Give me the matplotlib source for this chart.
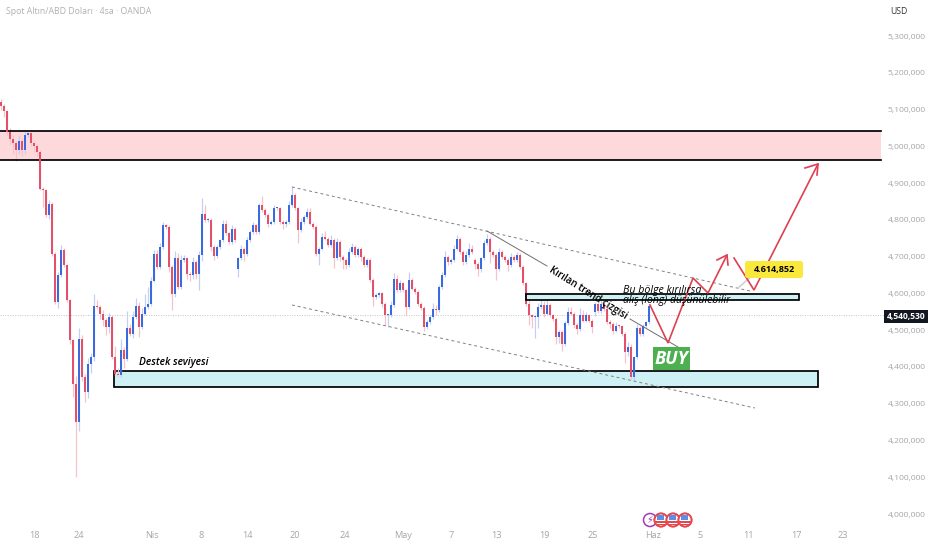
import matplotlib
matplotlib.use("Agg")
import matplotlib.pyplot as plt
from matplotlib.patches import Rectangle, Circle, FancyBboxPatch
from matplotlib.transforms import Affine2D

W, H = 932, 550
FONT = ["Open Sans", "DejaVu Sans"]
plt.rcParams["font.family"] = FONT

# closing prices (thousands), one per 4h bar
closes = [
 5110,5095,5040,5020,5010,4990,5015,4990,5030,5035,
 5010,5000,4985,4885,4880,4813,4844,4708,4576,4649,
 4719,4676,4581,4472,4354,4250,4477,4372,4331,4408,
 4427,4567,4563,4545,4527,4508,4536,4427,4381,4377,
 4445,4422,4506,4490,4536,4567,4508,4545,4563,4572,
 4635,4708,4672,4726,4785,4781,4672,4599,4695,4617,
 4690,4695,4654,4649,4685,4654,4704,4815,4799,4799,
 4726,4701,4726,4744,4790,4763,4740,4776,4744,4695,
 4722,4708,4744,4767,4785,4767,4840,4826,4813,4790,
 4794,4831,4831,4794,4790,4794,4840,4867,4831,4772,
 4795,4808,4822,4790,4781,4708,4722,4754,4749,4731,
 4745,4695,4740,4699,4690,4676,4713,4726,4704,4722,
 4699,4676,4690,4636,4590,4595,4600,4572,4540,4540,
 4568,4640,4608,4627,4608,4563,4636,4613,4604,4572,
 4560,4508,4522,4536,4558,4555,4617,4649,4699,4686,
 4690,4722,4749,4713,4686,4704,4722,4713,4681,4667,
 4695,4736,4749,4713,4704,4667,4713,4699,4690,4676,
 4699,4690,4704,4672,4627,4572,4540,4535,4536,4563,
 4568,4545,4568,4540,4531,4481,4495,4463,4520,4549,
 4545,4515,4504,4540,4526,4540,4526,4508,4571,4553,
 4571,4558,4522,4517,4499,4512,4510,4490,4440,4453,
 4372,4426,4506,4490,4512,4521,4567]
# bars that open away from the previous close (weekend gaps), bar -> open
gap_opens = {79: 4667, 158: 4690, 198: 4549}
first_open = 5120
upper_wick = [
 10,5,5,10,10,5,15,5,15,5,
 5,5,5,5,5,5,10,5,5,10,
 12,5,5,5,5,20,30,10,10,15,
 10,32,15,5,10,5,10,5,30,15,
 30,10,47,10,15,20,10,15,35,45,
 10,10,10,10,10,5,5,5,20,15,
 15,10,5,5,15,5,10,45,25,5,
 5,5,5,5,10,10,5,10,5,5,
 10,5,10,5,10,5,5,25,5,5,
 5,10,5,5,5,5,10,25,5,5,
 10,5,10,10,5,5,5,10,15,5,
 15,5,10,5,5,5,10,10,5,5,
 5,5,5,5,5,5,5,5,5,5,
 10,15,10,10,5,5,23,5,5,5,
 5,5,5,5,15,10,5,10,15,5,
 5,10,10,5,5,10,15,10,5,5,
 5,10,12,5,5,5,10,5,5,5,
 10,5,8,5,5,5,10,5,5,10,
 20,10,20,5,5,5,5,5,5,15,
 15,5,5,20,15,10,5,5,5,5,
 15,5,5,5,5,10,5,5,5,15,
 10,5,10,5,5,5,5]
lower_wick = [
 10,15,10,15,30,30,10,15,10,5,
 10,15,10,5,45,5,10,5,5,15,
 5,5,5,10,35,150,25,10,27,15,
 25,10,5,15,15,20,15,5,5,5,
 5,25,5,5,10,5,27,5,5,5,
 5,5,5,5,5,5,15,45,10,5,
 5,5,15,15,10,15,45,15,5,5,
 10,10,5,5,5,5,5,5,5,23,
 5,20,5,5,5,5,5,5,5,10,
 5,5,5,5,15,10,5,5,5,35,
 5,5,5,5,5,5,30,5,5,5,
 5,25,5,10,25,10,5,5,5,5,
 10,5,5,5,25,5,5,10,25,32,
 5,5,5,5,5,25,5,5,5,5,
 5,10,5,5,5,15,5,5,5,10,
 5,5,5,5,10,5,5,5,15,20,
 10,5,5,30,5,30,5,5,5,15,
 5,5,5,5,5,5,25,30,55,30,
 5,10,5,5,5,20,15,20,5,5,
 5,10,15,5,5,5,5,15,10,5,
 5,5,5,10,10,5,5,5,30,10,
 5,10,5,5,5,5,5]

y_ticks = [5300,5200,5100,5000,4900,4800,4700,4600,4500,4400,4300,4200,4100,4000]
x_tick_bars = [11,26,50.3,66.7,82.3,98,114.7,134,150,165,181.3,197.3,217.3,233,249,265,280.7]
x_tick_labels = ["18","24","Nis","8","14","20","24","May","7","13","19","25","Haz","5","11","17","23"]
last_price = 4540.53
supply_zone = (4962, 5041)
support_zone = (4345, 4389)
breakout_zone = (4582, 4598)

BLUE, RED = "#3a6ae0", "#e2506a"
BLUE_W, RED_W = "#c2d0f4", "#f7c3ca"

fig = plt.figure(figsize=(W/100, H/100), dpi=100, facecolor="white")
ax = fig.add_axes([0, 0, 1, 1])
# one bar = 3 px; 36 px -> 5300, 514 -> 4000
ax.set_xlim(-1/3, (W-1)/3)
scale = 1300/478
ax.set_ylim(5300-(H-36)*scale, 5300+36*scale)
for s in ax.spines.values():
    s.set_visible(False)
ax.yaxis.tick_right()
ax.set_yticks(y_ticks)
ax.set_yticklabels([f"{v//1000},{v%1000:03d},000" for v in y_ticks])
ax.tick_params(axis="y", length=0, pad=-32, labelsize=6.1, labelcolor="#a6a6a6")
ax.set_xticks(x_tick_bars)
ax.set_xticklabels(x_tick_labels)
ax.tick_params(axis="x", length=0, pad=-14, labelsize=6.6, labelcolor="#a6a6a6")

pix = Affine2D().scale(1/W, -1/H).translate(0, 1) + ax.transAxes
xmax = (881-1)/3

# zones
ax.add_patch(Rectangle((-1, supply_zone[0]), xmax+1, supply_zone[1]-supply_zone[0], fc="#fdd9dc", ec="none", zorder=1))
ax.plot([-1, xmax], [supply_zone[1]]*2, color="black", lw=1.25, zorder=3)
ax.plot([-1, xmax], [supply_zone[0]]*2, color="black", lw=1.25, zorder=3)
ax.add_patch(Rectangle(((114-1)/3, support_zone[0]), (818-114)/3, support_zone[1]-support_zone[0],
                       fc="#cdf1f4", ec="black", lw=1.25, zorder=1))
ax.add_patch(Rectangle(((526-1)/3, breakout_zone[0]), (799-526)/3, breakout_zone[1]-breakout_zone[0],
                       fc="#cdf1f4", ec="black", lw=1.25, zorder=4))

# last price line
ax.axhline(last_price, color="#c4c4c4", lw=0.7, ls=(0, (1, 1.5)), zorder=1, xmax=884/W)

# candles
opens = []
prev = first_open
for k, c in enumerate(closes):
    opens.append(gap_opens.get(k, prev))
    prev = c
for k, (o, c, u, l) in enumerate(zip(opens, closes, upper_wick, lower_wick)):
    up = c >= o
    ax.vlines(k, min(o, c)-l, max(o, c)+u, color=BLUE_W if up else RED_W, lw=0.9, zorder=2)
    ax.bar(k, max(abs(c-o), 3), bottom=min(o, c), width=0.5, color=BLUE if up else RED, lw=0, zorder=3)

# channel and trend lines
dash = dict(color="#808080", lw=0.7, ls=(0, (3, 3)), transform=pix, zorder=5)
ax.plot([292, 750], [187, 291], **dash)
ax.plot([292, 755], [305, 408], **dash)
ax.plot([487, 547], [231, 266], color="#6e6e6e", lw=0.7, transform=pix, zorder=5)
ax.plot([630, 678], [319, 347], color="#6e6e6e", lw=0.7, transform=pix, zorder=5)
ax.plot([738, 753], [288, 275], color="#d2d2d2", lw=1.2, transform=pix, zorder=5)

# red projected path
red = dict(color="#df3f50", lw=1.2, transform=pix, zorder=6, solid_joinstyle="miter")
ax.plot([650, 668, 693, 708, 727], [305, 343, 278, 293, 255], **red)
ax.plot([717, 727, 728], [260, 255, 265], **red)
ax.plot([734, 754, 818], [258, 290, 164], **red)
ax.plot([805, 818, 817], [168, 164, 175], **red)

# text
ax.text(6, 12, "Spot Altın/ABD Doları · 4sa · OANDA", transform=pix, fontsize=6.35, color="#b0b0b0", va="center")
ax.text(890, 12, "USD", transform=pix, fontsize=6.2, color="#333333", va="center")
ax.text(139, 363, "Destek seviyesi", transform=pix, fontsize=7.4, style="italic", weight="semibold", va="center", zorder=7)
ax.text(588, 293, "Kırılan trend çizgisi", transform=pix, fontsize=7.1, weight="semibold",
        rotation=-32, rotation_mode="anchor", ha="center", va="center", zorder=7)
ax.text(623, 290, "Bu bölge kırılırsa", transform=pix, fontsize=7.7, style="italic", va="center", zorder=7)
ax.text(623, 301, "alış (long) düşünülebilir", transform=pix, fontsize=7.5, style="italic", va="center", zorder=7)

# BUY box
ax.add_patch(Rectangle((653, 347), 37, 23, fc="#4caf50", ec="none", transform=pix, zorder=6))
ax.text(671.5, 359, "BUY", transform=pix, fontsize=13, color="white", weight="bold", style="italic",
        ha="center", va="center", zorder=7)

# yellow price box
ax.add_patch(FancyBboxPatch((745, 261), 58, 17, boxstyle="round,pad=0,rounding_size=2.5", fc="#fbe83c", ec="none",
                            lw=0, transform=pix, zorder=6, mutation_scale=1))
ax.text(774, 269.5, "4.614,852", transform=pix, fontsize=6.5, weight="bold", ha="center", va="center", zorder=7)

# last price box
ax.add_patch(Rectangle((884, 310), 44, 12.5, fc="#131722", ec="none", transform=pix, zorder=8))
ax.text(906, 316, "4,540,530", transform=pix, fontsize=6.1, color="white", weight="bold", ha="center", va="center", zorder=9)

# event icons
cy = 520
ax.add_patch(Circle((650, cy), 6.5, fc="white", ec="#a03ab5", lw=1.1, transform=pix, zorder=6))
ax.text(650, cy, "⚡", transform=pix, fontsize=7, color="#a03ab5", ha="center", va="center", zorder=7,
        family="DejaVu Sans")
for n, cx in enumerate((661, 673, 685)):
    z = 8 + n
    c = Circle((cx, cy), 6.6, fc="white", ec="#e5484d", lw=1.2, transform=pix, zorder=z)
    ax.add_patch(c)
    for top, fc, wd, ht, left in ((cy+1, "#e5484d", 13, 1.6, cx-6.5), (cy+4, "#e5484d", 13, 1.4, cx-6.5),
                                  (cy-5, "#5b8ee6", 7, 4.5, cx-4)):
        r = ax.add_patch(Rectangle((left, top), wd, ht, fc=fc, ec="none", transform=pix, zorder=z+0.1))
        r.set_clip_path(c)
    ax.add_patch(Circle((cx, cy), 6.6, fc="none", ec="#e5484d", lw=1.2, transform=pix, zorder=z+0.2))

fig.savefig("out.png", dpi=100, facecolor="white")
